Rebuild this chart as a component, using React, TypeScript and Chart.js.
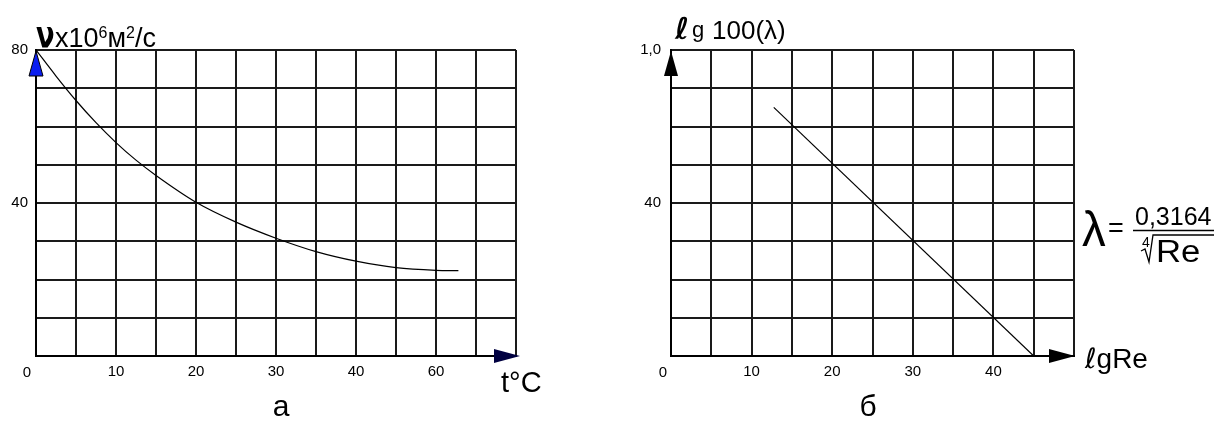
import React, { useEffect, useRef } from "react";
import { Chart, registerables } from "chart.js";

Chart.register(...registerables);

// ---- data ----
const tempC = [0, 2.5, 5, 7.5, 10, 12.5, 15, 20, 25, 30, 35, 40, 45, 50, 52.8];
const viscosity = [80, 73.2, 66.8, 61, 55.8, 51.2, 47.2, 40.2, 35, 30.8, 27.3, 24.8, 23.1, 22.4, 22.3];

const lgRe = [12.75, 45];
const lgLambda100 = [65, 0];

const leftXTickValues = [10, 20, 30, 40, 50];
const leftXTickLabels = ["10", "20", "30", "40", "60"];
const rightXTickValues = [10, 20, 30, 40];
const rightXTickLabels = ["10", "20", "30", "40"];
const leftYTickValues = [40, 80];
const leftYTickLabels = ["40", "80"];
const rightYTickValues = [40, 80];
const rightYTickLabels = ["40", "1,0"];

const FONT = "'Liberation Sans', Arial, sans-serif";
const H = 427;

function labelFor(values: number[], labels: string[]) {
  return (v: any) => {
    const i = values.findIndex((x) => Math.abs(x - Number(v)) < 1e-6);
    return i >= 0 ? labels[i] : "";
  };
}

function makeScales(opts: {
  xMax: number;
  xVals: number[];
  xLabels: string[];
  yVals: number[];
  yLabels: string[];
  yWidth: number;
  xHeight: number;
  yPad: number;
}) {
  const grid = { color: "#1a1a1a", lineWidth: 2, drawTicks: false };
  const border = { color: "#000", width: 2 };
  return {
    x: {
      type: "linear",
      min: 0,
      max: opts.xMax,
      afterFit: (s: any) => {
        s.height = opts.xHeight;
      },
      ticks: {
        stepSize: 5,
        autoSkip: false,
        maxRotation: 0,
        padding: 7,
        color: "#000",
        font: { family: FONT, size: 15 },
        callback: labelFor(opts.xVals, opts.xLabels),
      },
      grid,
      border,
    },
    y: {
      type: "linear",
      min: 0,
      max: 80,
      afterFit: (s: any) => {
        s.width = opts.yWidth;
      },
      ticks: {
        stepSize: 10,
        autoSkip: false,
        padding: opts.yPad,
        color: "#000",
        font: { family: FONT, size: 15 },
        callback: labelFor(opts.yVals, opts.yLabels),
      },
      grid,
      border,
    },
  };
}

function tri(ctx: CanvasRenderingContext2D, pts: number[][], fill: string, stroke?: string) {
  ctx.beginPath();
  ctx.moveTo(pts[0][0], pts[0][1]);
  for (let i = 1; i < pts.length; i++) ctx.lineTo(pts[i][0], pts[i][1]);
  ctx.closePath();
  ctx.fillStyle = fill;
  ctx.fill();
  if (stroke) {
    ctx.strokeStyle = stroke;
    ctx.lineWidth = 1;
    ctx.stroke();
  }
}

function txt(
  ctx: CanvasRenderingContext2D,
  s: string,
  x: number,
  y: number,
  font: string,
  align: CanvasTextAlign = "left"
) {
  ctx.font = font;
  ctx.textAlign = align;
  ctx.textBaseline = "alphabetic";
  ctx.fillStyle = "#000";
  ctx.fillText(s, x, y);
  return ctx.measureText(s).width;
}

function txtScaled(
  ctx: CanvasRenderingContext2D,
  s: string,
  x: number,
  y: number,
  font: string,
  sx: number
) {
  ctx.save();
  ctx.translate(x, y);
  ctx.scale(sx, 1);
  const w = txt(ctx, s, 0, 0, font);
  ctx.restore();
  return w * sx;
}

function chain(ctx: CanvasRenderingContext2D, x: number, y: number, parts: [string, string, number][]) {
  let cx = x;
  for (const [s, f, dy] of parts) {
    cx += txt(ctx, s, cx, y + dy, f);
  }
  return cx;
}

function LeftChart() {
  const ref = useRef<HTMLCanvasElement>(null);
  useEffect(() => {
    const ox = 0;
    const deco = {
      id: "decoLeft",
      afterDraw(chart: any) {
        const ctx: CanvasRenderingContext2D = chart.ctx;
        const a = chart.chartArea;
        ctx.save();
        // arrows
        tri(ctx, [[a.left, a.top + 1], [a.left - 7, a.top + 26], [a.left + 7, a.top + 26]], "#0a1ef0", "#000");
        tri(ctx, [[a.right + 4, a.bottom], [a.right - 22, a.bottom - 7], [a.right - 22, a.bottom + 7]], "#000040");
        // origin label
        txt(ctx, "0", 27 - ox, 377, `15px ${FONT}`, "center");
        // title of y axis
        txtScaled(ctx, "ν", 36 - ox, 47, `bold 38px 'DejaVu Sans', ${FONT}`, 0.72);
        chain(ctx, 55 - ox, 47, [
          ["x", `27px ${FONT}`, 0],
          ["10", `27px ${FONT}`, 0],
          ["6", `16px ${FONT}`, -9],
          ["м", `27px ${FONT}`, 0],
          ["2", `16px ${FONT}`, -9],
          ["/", `27px ${FONT}`, 0],
          ["с", `27px ${FONT}`, 0],
        ]);
        // x title
        txt(ctx, "t°C", 501 - ox, 392, `29px ${FONT}`);
        // caption
        txt(ctx, "а", 281 - ox, 416, `30px ${FONT}`, "center");
        ctx.restore();
      },
    };
    const chart = new Chart(ref.current!, {
      type: "line",
      data: {
        datasets: [
          {
            data: tempC.map((t, i) => ({ x: t, y: viscosity[i] })),
            borderColor: "#000",
            borderWidth: 1.2,
            pointRadius: 0,
            cubicInterpolationMode: "monotone",
            fill: false,
          },
        ],
      },
      options: {
        animation: false,
        responsive: false,
        layout: { padding: { top: 50, right: 610 - 516, bottom: 0, left: 0 } },
        plugins: { legend: { display: false }, tooltip: { enabled: false } },
        scales: makeScales({
          xMax: 60,
          xVals: leftXTickValues,
          xLabels: leftXTickLabels,
          yVals: leftYTickValues,
          yLabels: leftYTickLabels,
          yWidth: 36,
          xHeight: H - 356 - 0,
          yPad: 8,
        }) as any,
      },
      plugins: [deco],
    } as any);
    return () => chart.destroy();
  }, []);
  return (
    <canvas
      ref={ref}
      width={610}
      height={H}
      style={{ position: "absolute", left: 0, top: 0, width: 610, height: H }}
    />
  );
}

function RightChart() {
  const ref = useRef<HTMLCanvasElement>(null);
  useEffect(() => {
    const ox = 610;
    const deco = {
      id: "decoRight",
      afterDraw(chart: any) {
        const ctx: CanvasRenderingContext2D = chart.ctx;
        const a = chart.chartArea;
        ctx.save();
        tri(ctx, [[a.left, a.top + 1], [a.left - 7, a.top + 26], [a.left + 7, a.top + 26]], "#000");
        tri(ctx, [[a.right + 1, a.bottom], [a.right - 25, a.bottom - 7], [a.right - 25, a.bottom + 7]], "#000");
        txt(ctx, "0", 663 - ox, 377, `15px ${FONT}`, "center");
        // y title
        txt(ctx, "ℓ", 675 - ox, 39, `bold 30px 'DejaVu Sans', ${FONT}`);
        txt(ctx, "g", 692 - ox, 37, `22px ${FONT}`);
        txt(ctx, "100(λ)", 712 - ox, 39, `26px ${FONT}`);
        // x title
        const w = txt(ctx, "ℓ", 1085 - ox, 368, `28px 'DejaVu Sans', ${FONT}`);
        txt(ctx, "gRe", 1085 - ox + w, 368, `28px ${FONT}`);
        // formula
        txtScaled(ctx, "λ", 1082 - ox, 246, `50px ${FONT}`, 0.95);
        txt(ctx, "=", 1108 - ox, 237, `27px ${FONT}`);
        txt(ctx, "0,3164", 1135 - ox, 225, `25px ${FONT}`);
        ctx.strokeStyle = "#000";
        ctx.lineWidth = 1.5;
        ctx.beginPath();
        ctx.moveTo(1133 - ox, 230.5);
        ctx.lineTo(1214 - ox, 230.5);
        ctx.stroke();
        txt(ctx, "4", 1142 - ox, 247, `14px ${FONT}`);
        ctx.lineWidth = 1.3;
        ctx.beginPath();
        ctx.moveTo(1141 - ox, 251);
        ctx.lineTo(1145 - ox, 249);
        ctx.lineTo(1149 - ox, 262);
        ctx.lineTo(1153 - ox, 235);
        ctx.lineTo(1214 - ox, 235);
        ctx.stroke();
        txtScaled(ctx, "Re", 1156 - ox, 262, `31px ${FONT}`, 1.12);
        txt(ctx, "б", 868 - ox, 416, `30px ${FONT}`, "center");
        ctx.restore();
      },
    };
    const chart = new Chart(ref.current!, {
      type: "line",
      data: {
        datasets: [
          {
            data: lgRe.map((x, i) => ({ x, y: lgLambda100[i] })),
            borderColor: "#000",
            borderWidth: 1.2,
            pointRadius: 0,
            fill: false,
          },
        ],
      },
      options: {
        animation: false,
        responsive: false,
        layout: { padding: { top: 50, right: 615 - 464, bottom: 0, left: 0 } },
        plugins: { legend: { display: false }, tooltip: { enabled: false } },
        scales: makeScales({
          xMax: 50,
          xVals: rightXTickValues,
          xLabels: rightXTickLabels,
          yVals: rightYTickValues,
          yLabels: rightYTickLabels,
          yWidth: 61,
          xHeight: H - 356,
          yPad: 10,
        }) as any,
      },
      plugins: [deco],
    } as any);
    return () => chart.destroy();
  }, []);
  return (
    <canvas
      ref={ref}
      width={615}
      height={H}
      style={{ position: "absolute", left: 610, top: 0, width: 615, height: H }}
    />
  );
}

export default function App() {
  return (
    <div
      style={{
        position: "absolute",
        left: 0,
        top: 0,
        width: 1225,
        height: H,
        background: "#fff",
        overflow: "hidden",
      }}
    >
      <LeftChart />
      <RightChart />
    </div>
  );
}
